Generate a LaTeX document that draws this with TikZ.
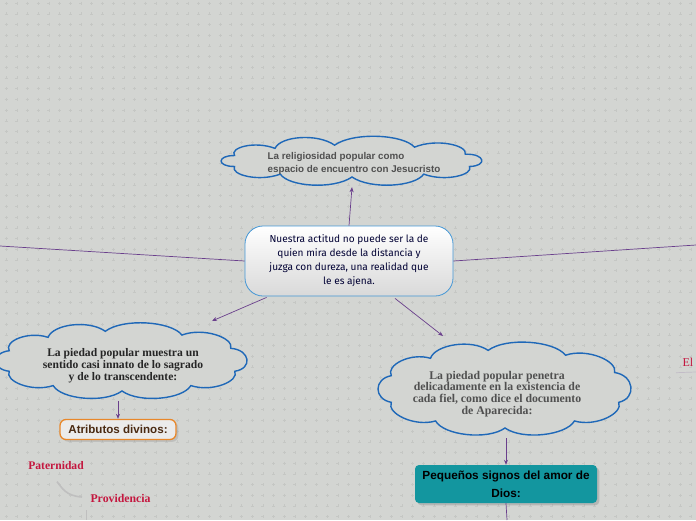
\documentclass[tikz,border=0pt]{standalone}
\usepackage{fontspec}
\setmainfont{Liberation Serif}
\setsansfont{Liberation Sans}
\newfontfamily\centrofont{Fira Sans}
\usetikzlibrary{shadows,arrows.meta}
\definecolor{fondo}{HTML}{D3D5D2}
\definecolor{cruz}{HTML}{C5C7C4}
\definecolor{azulnube}{HTML}{1F68B8}
\definecolor{azulcentro}{HTML}{4497D6}
\definecolor{morado}{HTML}{6A3F8C}
\definecolor{naranja}{HTML}{E8872A}
\definecolor{turquesa}{HTML}{13969F}
\definecolor{rojo}{HTML}{C4173F}
\definecolor{textogris}{HTML}{505050}
\definecolor{marron}{HTML}{4A2A12}
\tikzset{
  nubelinea/.style={draw=azulnube, line width=1.4pt, fill=fondo},
  enlace/.style={draw=morado, line width=0.7pt},
  flecha/.style={enlace, -{Stealth[length=5pt,width=4pt]}},
  rama/.style={draw=black!25, line width=1.6pt},
}
% nube: nombre, x, y, rx, ry
\newcommand\nube[5]{%
  \draw[nubelinea] ({#2+#4*cos(20)},{#3+#5*sin(20)})
    \foreach \b/\a in {20/55,55/90,90/125,125/160,160/200,200/232,232/262,262/300,300/335,335/380}
    { .. controls ({#2+(#4+13)*cos(\b+(\a-\b)*0.22)},{#3+(#5+13)*sin(\b+(\a-\b)*0.22)})
         and ({#2+(#4+13)*cos(\a-(\a-\b)*0.22)},{#3+(#5+13)*sin(\a-(\a-\b)*0.22)})
      .. ({#2+#4*cos(\a)},{#3+#5*sin(\a)}) } -- cycle;
  \node[inner sep=0pt, minimum width=2*#4+20, minimum height=2*#5+20] (#1) at (#2,#3) {};}
\begin{document}
\begin{tikzpicture}[x=1pt,y=-1pt]
\useasboundingbox (0,0) rectangle (696,520);
\fill[fondo] (0,0) rectangle (696,520);
\draw[cruz, line width=0.4pt] \foreach \i in {0,...,65} {\foreach \j in {0,...,49}
  {(\i*10.7+4.5,\j*10.7+3) -- ++(3,0) (\i*10.7+6,\j*10.7+1.5) -- ++(0,3)}};

% nubes
\nube{religiosidad}{352}{161}{125}{16}
\node[font=\sffamily\bfseries\fontsize{9.8}{13}\selectfont, text=textogris, align=left]
  at (354,163) {La religiosidad popular como\\espacio de encuentro con Jesucristo};
\nube{sentido}{122}{361}{120}{30}
\node[font=\bfseries\fontsize{11.6}{12}\selectfont, text=black!85, align=center]
  at (123,366) {La piedad popular muestra un\\sentido casi innato de lo sagrado\\y de lo transcendente:};
\nube{penetra}{505}{389}{121}{39}
\node[font=\bfseries\fontsize{11.8}{11.8}\selectfont, text=textogris, align=center]
  at (497,394) {La piedad popular penetra\\delicadamente en la existencia de\\cada fiel, como dice el documento\\de Aparecida:};

% nodo central
\node[draw=azulcentro, line width=0.8pt, rounded corners=18pt, top color=white, bottom color=black!15,
  minimum width=208, minimum height=70, align=center, text=black!80!blue,
  font=\centrofont\fontsize{10.1}{14}\selectfont] (centro) at (349,261)
  {Nuestra actitud no puede ser la de\\quien mira desde la distancia y\\juzga con dureza, una realidad que\\le es ajena.};

% subtemas
\node[draw=naranja, line width=1.3pt, rounded corners=6pt, fill=black!8, drop shadow={opacity=0.25},
  minimum width=116, minimum height=20, font=\sffamily\bfseries\fontsize{11.6}{12}\selectfont, text=marron]
  (atributos) at (118,429.5) {Atributos divinos:};
\node[fill=turquesa, rounded corners=4pt, drop shadow={opacity=0.35}, minimum width=182, minimum height=38,
  align=center, font=\sffamily\bfseries\fontsize{11.8}{18}\selectfont]
  (signos) at (506,484) {Pequeños signos del amor de\\Dios:};
\node[text=rojo, font=\bfseries\fontsize{11.6}{12}\selectfont] (paternidad) at (56,466) {Paternidad};
\node[text=rojo, font=\bfseries\fontsize{11.8}{12}\selectfont, anchor=west] (providencia) at (87,498) {Providencia};
\node[text=rojo, font=\fontsize{12}{12}\selectfont, anchor=west] (el) at (679,362) {El};

\coordinate (izq) at (0,246);
\coordinate (der) at (696,245);
\coordinate (abajoA) at (507,520);
\coordinate (abajoB) at (86,520);
\coordinate (finel) at (696,372);

% conexiones
\draw[enlace] (centro.west) -- (izq);
\draw[enlace] (centro.east) -- (der);
\draw[flecha] (centro.north) -- (religiosidad.south);
\draw[flecha] (centro.south west) ++(22,1) -- (212,321);
\draw[flecha] (centro.south) ++(46,2) -- (443,336);
\draw[flecha] (sentido.south) ++(-4,0) -- (atributos.north);
\draw[flecha] (penetra.south) ++(1,0) -- (signos.north);
\draw[enlace] (signos.south) -- (abajoA);
\draw[enlace, draw=morado!50!black!30] (el.south west) ++(-3,3) -- (finel);
\draw[rama] (paternidad.south) ++(1,8) .. controls (62,488) and (66,496) .. (82,497);
\draw[rama, line width=0.6pt] (providencia.west) ++(-1,12) -- (abajoB);
\end{tikzpicture}
\end{document}
